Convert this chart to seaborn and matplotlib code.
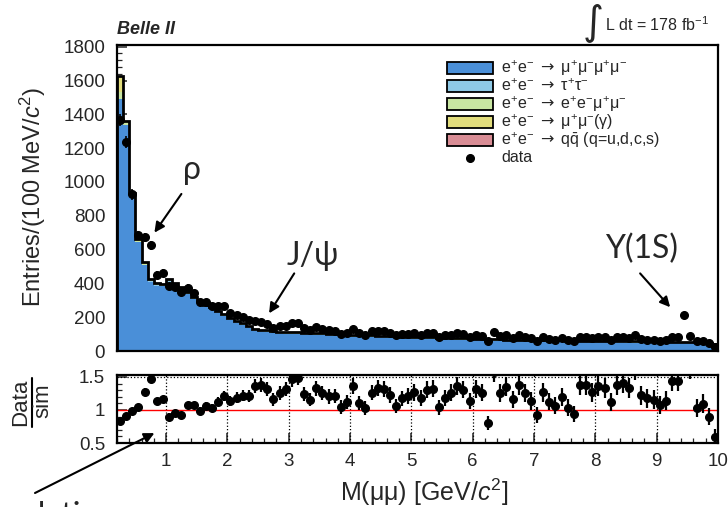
import numpy as np
import pandas as pd
import matplotlib
matplotlib.use("Agg")
import matplotlib.pyplot as plt
import seaborn as sns
from matplotlib.patches import Rectangle
from matplotlib.lines import Line2D
from matplotlib.ticker import MultipleLocator, FixedLocator, NullFormatter

# ---------------------------------------------------------------- data
# 100 MeV bins of the di-muon invariant mass, 0.2 - 10.0 GeV/c^2
M_MIN, M_MAX, N_BINS = 0.2, 10.0, 98

# simulated e+e- -> mu+mu-mu+mu- (dominant component)
mumumumu = [
    1488, 1337, 916, 643, 509, 410, 386, 384, 411, 386,
    368, 338, 308, 283, 263, 246, 226, 206, 186, 168,
    153, 138, 120, 114, 110, 106, 103, 101, 100, 98,
    97, 96, 94, 92, 90, 88, 86, 84, 83, 82,
    81, 80, 79, 78, 77, 75, 73, 72, 71, 70,
    69, 71, 70, 69, 68, 67, 66, 65, 64, 63,
    62, 61, 60, 59, 59, 58, 57, 57, 56, 55,
    55, 54, 54, 53, 53, 52, 52, 51, 51, 51,
    50, 50, 50, 49, 49, 49, 48, 48, 48, 47,
    47, 47, 47, 46, 46, 44, 41, 35,
]
# simulated e+e- -> tau+tau-
tautau = [
    0, 2, 2, 2, 2, 2, 2, 2, 2, 2,
    2, 2, 2, 2, 2, 2, 2, 2, 2, 2,
    2, 2, 2, 2, 2, 2, 2, 2, 2, 2,
    2, 2, 2, 2, 2, 2, 2, 2, 2, 2,
    2, 2, 2, 2, 2, 2, 2, 2, 2, 2,
    2, 1, 1, 1, 1, 1, 1, 1, 1, 1,
    1, 1, 1, 1, 1, 1, 1, 1, 1, 1,
    1, 1, 1, 1, 1, 1, 1, 1, 1, 1,
    1, 1, 1, 1, 1, 1, 1, 1, 1, 1,
    1, 1, 1, 1, 1, 1, 1, 1,
]
# simulated e+e- -> e+e-mu+mu-
eemumu = [
    45, 8, 6, 5, 5, 4, 4, 4, 4, 4,
    4, 4, 4, 4, 4, 4, 4, 4, 4, 4,
    4, 4, 4, 4, 4, 4, 4, 4, 4, 4,
    4, 4, 4, 4, 4, 4, 4, 4, 4, 4,
    4, 4, 4, 4, 4, 4, 4, 4, 4, 4,
    4, 3, 3, 3, 3, 3, 3, 3, 3, 3,
    3, 3, 3, 3, 3, 3, 3, 3, 3, 3,
    3, 3, 3, 3, 3, 3, 3, 3, 3, 3,
    3, 3, 3, 3, 3, 3, 3, 3, 3, 3,
    3, 3, 3, 3, 3, 3, 3, 3,
]
# simulated e+e- -> mu+mu-(gamma)
mumugamma = [
    90, 12, 10, 9, 8, 8, 7, 7, 7, 7,
    6, 6, 6, 6, 6, 6, 6, 6, 6, 6,
    6, 6, 6, 6, 6, 6, 6, 6, 6, 6,
    6, 6, 6, 6, 6, 6, 6, 6, 6, 6,
    6, 6, 6, 6, 6, 6, 6, 6, 6, 6,
    6, 5, 5, 5, 5, 5, 5, 5, 5, 5,
    5, 5, 5, 5, 5, 5, 5, 5, 5, 5,
    5, 5, 5, 5, 5, 5, 5, 5, 5, 5,
    5, 5, 5, 5, 5, 5, 5, 5, 5, 5,
    5, 5, 5, 5, 5, 5, 5, 5,
]
# simulated e+e- -> q qbar (q = u, d, c, s)
qqbar = [
    2, 1, 1, 1, 1, 1, 1, 1, 1, 1,
    0, 0, 0, 0, 0, 0, 0, 0, 0, 0,
    0, 0, 0, 0, 0, 0, 0, 0, 0, 0,
    0, 0, 0, 0, 0, 0, 0, 0, 0, 0,
    0, 0, 0, 0, 0, 0, 0, 0, 0, 0,
    0, 0, 0, 0, 0, 0, 0, 0, 0, 0,
    0, 0, 0, 0, 0, 0, 0, 0, 0, 0,
    0, 0, 0, 0, 0, 0, 0, 0, 0, 0,
    0, 0, 0, 0, 0, 0, 0, 0, 0, 0,
    0, 0, 0, 0, 0, 0, 0, 0,
]
# observed events per bin
data_counts = [
    1365, 1238, 926, 686, 672, 625, 452, 462, 383, 380,
    350, 375, 342, 292, 292, 266, 267, 264, 224, 214,
    201, 182, 180, 174, 161, 137, 145, 149, 164, 164,
    135, 125, 141, 131, 123, 121, 102, 108, 129, 104,
    96, 116, 121, 118, 109, 92, 100, 102, 105, 97,
    106, 106, 82, 92, 97, 104, 98, 84, 96, 91,
    57, 110, 87, 92, 79, 92, 83, 75, 60, 81,
    72, 67, 75, 64, 58, 84, 84, 76, 82, 80,
    66, 81, 83, 77, 94, 71, 67, 66, 61, 64,
    81, 81, 212, 90, 57, 58, 45, 26,
]

ARROW = r"$\mathsf{\rightarrow}$"
process_labels = {
    "mumumumu": r"e$^{+}$e$^{-}$ " + ARROW + r" μ$^{+}$μ$^{-}$μ$^{+}$μ$^{-}$",
    "tautau": r"e$^{+}$e$^{-}$ " + ARROW + r" τ$^{+}$τ$^{-}$",
    "eemumu": r"e$^{+}$e$^{-}$ " + ARROW + r" e$^{+}$e$^{-}$μ$^{+}$μ$^{-}$",
    "mumugamma": r"e$^{+}$e$^{-}$ " + ARROW + r" μ$^{+}$μ$^{-}$(γ)",
    "qqbar": r"e$^{+}$e$^{-}$ " + ARROW + r" q$\bar{\mathrm{q}}$ (q=u,d,c,s)",
}
process_colors = {
    "mumumumu": "#4a8fd8",
    "tautau": "#8ec9e6",
    "eemumu": "#c8e6a2",
    "mumugamma": "#e2dd7c",
    "qqbar": "#d98d95",
}
components = {
    "mumumumu": mumumumu,
    "tautau": tautau,
    "eemumu": eemumu,
    "mumugamma": mumugamma,
    "qqbar": qqbar,
}

# ---------------------------------------------------------------- style
sns.set_style("ticks")
plt.rcParams["font.family"] = ["Liberation Sans", "DejaVu Sans"]
plt.rcParams["mathtext.fontset"] = "custom"
plt.rcParams["mathtext.rm"] = "Liberation Sans"
plt.rcParams["mathtext.it"] = "Liberation Sans:italic"
plt.rcParams["mathtext.bf"] = "Liberation Sans:bold"
plt.rcParams["mathtext.sf"] = "DejaVu Sans"

W, H = 728, 507
fig = plt.figure(figsize=(W / 100, H / 100), dpi=100)


def fx(px):
    return px / W


def fy(py):
    return 1 - py / H


ax = fig.add_axes([fx(117), fy(351), fx(718) - fx(117), fy(45) - fy(351)])
axr = fig.add_axes([fx(117), fy(443), fx(718) - fx(117), fy(375) - fy(443)])

edges = np.linspace(M_MIN, M_MAX, N_BINS + 1)
centers = 0.5 * (edges[:-1] + edges[1:])

# ---------------------------------------------------------------- stacked simulation
frames = [
    pd.DataFrame({"mass": centers, "weight": np.asarray(v, float), "process": k})
    for k, v in components.items()
]
df = pd.concat(frames, ignore_index=True)
stack_order = ["qqbar", "mumugamma", "eemumu", "tautau", "mumumumu"]
sns.histplot(
    data=df, x="mass", weights="weight", hue="process", hue_order=stack_order,
    multiple="stack", bins=edges.tolist(), element="step", fill=True, alpha=1,
    palette=process_colors, linewidth=0, legend=False, ax=ax,
)

sim_total = np.sum([np.asarray(v, float) for v in components.values()], axis=0)
data = np.asarray(data_counts, float)

ax.stairs(sim_total, edges, color="black", lw=2.0, zorder=4)
ax.errorbar(centers, data, yerr=np.sqrt(data), fmt="o", color="black",
            ms=5.5, elinewidth=1.2, capsize=0, zorder=6)

ax.set_xlim(M_MIN, M_MAX)
ax.set_ylim(0, 1810)
ax.set_xlabel("")
ax.set_ylabel("")
ax.xaxis.set_major_locator(FixedLocator(range(1, 11)))
ax.xaxis.set_minor_locator(MultipleLocator(0.2))
ax.xaxis.set_major_formatter(NullFormatter())
ax.yaxis.set_major_locator(MultipleLocator(200))
ax.yaxis.set_minor_locator(MultipleLocator(40))

# ---------------------------------------------------------------- ratio panel
ratio = data / sim_total
ratio_err = np.sqrt(data) / sim_total
for v in range(1, 10):
    axr.axvline(v, color="black", ls=":", lw=0.9, zorder=1)
axr.axhline(1.5, color="black", ls=":", lw=0.9, zorder=1)
axr.axhline(1.0, color="red", lw=1.0, zorder=2)
axr.errorbar(centers, ratio, yerr=ratio_err, fmt="o", color="black",
             ms=5.5, elinewidth=1.6, capsize=0, zorder=5)
axr.set_xlim(M_MIN, M_MAX)
axr.set_ylim(0.5, 1.53)
axr.xaxis.set_major_locator(FixedLocator(range(1, 11)))
axr.xaxis.set_minor_locator(MultipleLocator(0.2))
axr.yaxis.set_major_locator(FixedLocator([0.5, 1.0, 1.5]))
axr.yaxis.set_minor_locator(MultipleLocator(0.1))
axr.set_yticklabels(["0.5", "1", "1.5"])
axr.set_xticklabels([str(v) for v in range(1, 11)])

for a in (ax, axr):
    for s in a.spines.values():
        s.set_linewidth(1.6)
        s.set_color("black")
    a.tick_params(which="major", direction="in", length=7, width=1.1,
                  labelsize=13.5, top=False, right=False)
    a.tick_params(which="minor", direction="in", length=3.5, width=0.9,
                  top=False, right=False)
    a.tick_params(axis="y", pad=8.5)
axr.tick_params(axis="x", pad=7)

# ---------------------------------------------------------------- legend
rows = [68, 86, 104, 122, 140]
for yc, key in zip(rows, components.keys()):
    fig.patches.append(Rectangle((fx(447), fy(yc + 6)), fx(493) - fx(447),
                                 fy(yc - 6) - fy(yc + 6), transform=fig.transFigure,
                                 facecolor=process_colors[key], edgecolor="black",
                                 lw=1.3, zorder=10))
    fig.text(fx(501), fy(yc), process_labels[key], fontsize=11.5,
             ha="left", va="center", zorder=10)
fig.lines.append(Line2D([fx(470)], [fy(158)], marker="o", color="black", ms=5.5,
                        transform=fig.transFigure))
fig.text(fx(501), fy(158), "data", fontsize=11.5, ha="left", va="center")

# ---------------------------------------------------------------- titles and axis labels
fig.text(fx(117), fy(30), "Belle II", fontsize=13, fontweight="bold",
         fontstyle="italic", ha="left", va="center")
fig.text(fx(593), fy(22), "∫", fontsize=29, family=["DejaVu Sans"],
         ha="center", va="center")
fig.text(fx(605), fy(25), r"L dt = 178 fb$^{-1}$", fontsize=11.5,
         ha="left", va="center")

fig.text(fx(33), fy(197), r"Entries/(100 MeV/$c^{2}$)", fontsize=17,
         rotation=90, ha="center", va="center")
fig.text(fx(21), fy(402), "Data", fontsize=16, rotation=90, ha="center", va="center")
fig.text(fx(43), fy(401), "sim", fontsize=16, rotation=90, ha="center", va="center")
fig.lines.append(Line2D([fx(32), fx(32)], [fy(378), fy(427)], color="black",
                        lw=1.5, transform=fig.transFigure))
fig.text(fx(424), fy(492), r"M(μμ) [GeV/$c^{2}$]", fontsize=18,
         ha="center", va="center")

# ---------------------------------------------------------------- resonance annotations
note_font = dict(fontsize=23, family=["Lato", "DejaVu Sans"], ha="center", va="center")
arrow = dict(arrowstyle="-|>", color="black", lw=1.5, mutation_scale=15,
             shrinkA=0, shrinkB=0)

fig.text(fx(192), fy(170), "ρ", **note_font)
ax.annotate("", xy=(0.81, 700), xytext=(1.25, 929), arrowprops=arrow)

fig.text(fx(313), fy(256), "J/ψ", **note_font)
ax.annotate("", xy=(2.68, 223), xytext=(3.09, 459), arrowprops=arrow)

fig.text(fx(642), fy(249), "Υ(1S)", **note_font)
ax.annotate("", xy=(9.22, 259), xytext=(8.73, 459), arrowprops=arrow)

axr.annotate("", xy=(0.81, 0.65), xycoords="data", xytext=(35, 14),
             textcoords="figure pixels", arrowprops=arrow, annotation_clip=False)
fig.text(-27 / W, fy(525), "simulation", fontsize=23,
         family=["Lato", "DejaVu Sans"], ha="left", va="baseline")

fig.savefig("out.png", dpi=100)
